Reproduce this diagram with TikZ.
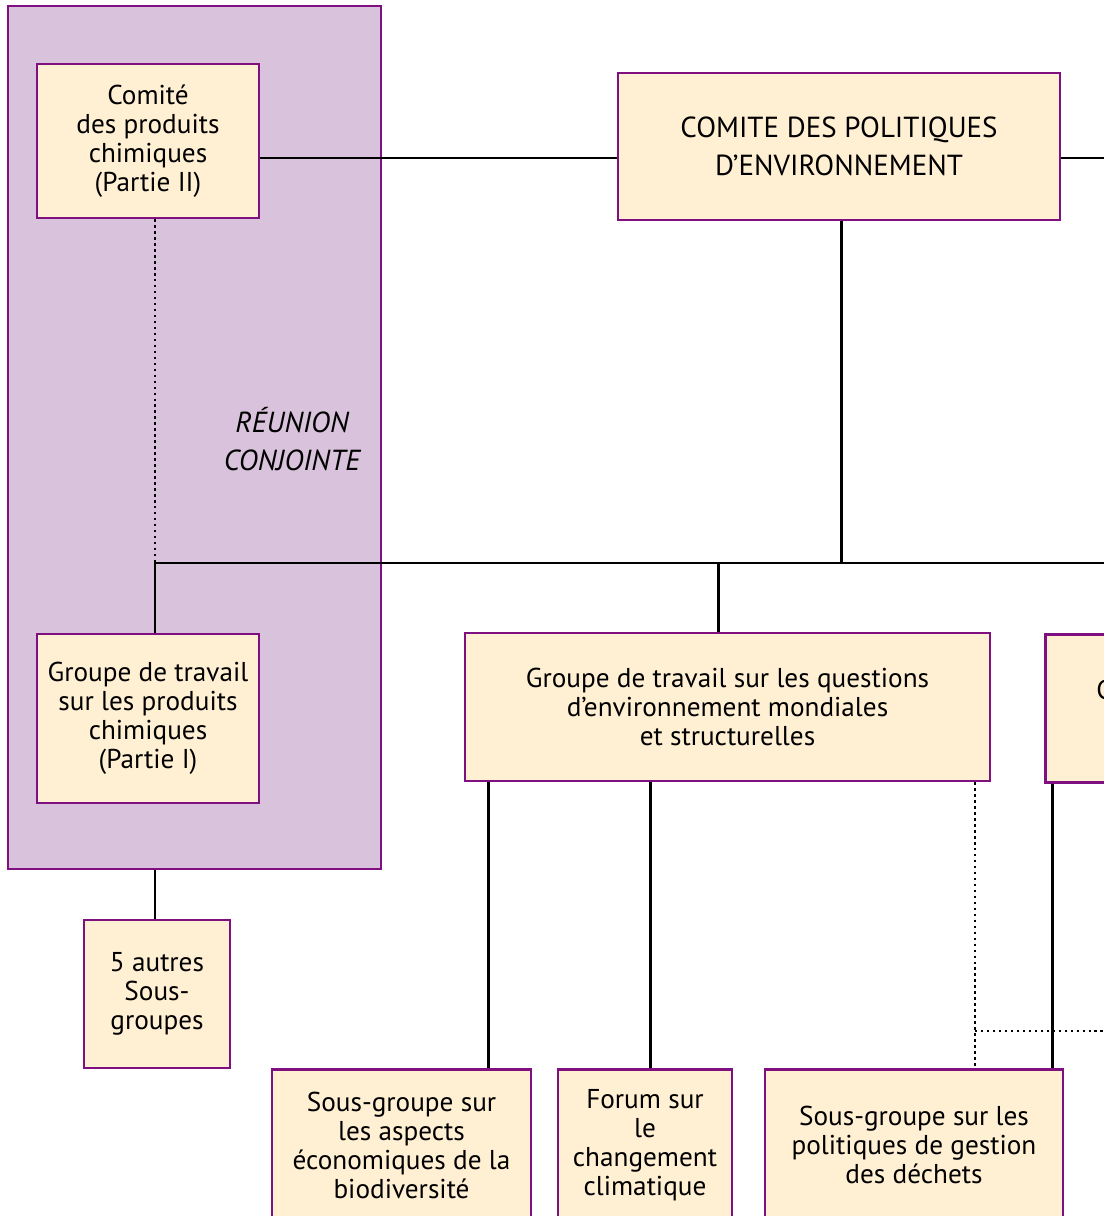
\documentclass[tikz,border=0pt]{standalone}
\usepackage{fontspec}
\setmainfont{PT Sans}
\definecolor{orgpurple}{HTML}{80107F}
\definecolor{jointfill}{HTML}{D9C2DB}
\definecolor{boxfill}{HTML}{FFEFD3}
\tikzset{
  orgbox/.style={draw=orgpurple, fill=boxfill, line width=1.5pt, align=center, inner sep=0pt, font=\fontsize{15.5}{16.5}\selectfont},
  link/.style={line width=1.7pt},
  dottedlink/.style={line width=1.4pt, dotted}
}
\begin{document}
\begin{tikzpicture}[x=0.02cm, y=-0.02cm]
    \useasboundingbox (0,0) rectangle (1103,1216);
    % joint meeting panel
    \node[orgbox, fill=jointfill, minimum width=7.46cm, minimum height=17.26cm] (joint) at (194.5,437.5) {};
    \node[font=\fontsize{16.5}{21.5}\selectfont\itshape, align=center] (jointlabel) at (292,439) {RÉUNION\\CONJOINTE};
    \node[orgbox, minimum width=4.44cm, minimum height=3.08cm] (chemtwo) at (148,141) {Comité\\des produits\\chimiques\\(Partie II)};
    \node[orgbox, minimum width=4.44cm, minimum height=3.38cm] (chemone) at (148,718.5) {Groupe de travail\\sur les produits\\chimiques\\(Partie I)};
    \node[orgbox, minimum width=2.92cm, minimum height=2.96cm] (others) at (157,994) {5 autres\\Sous-\\groupes};
    % committee and working parties
    \node[orgbox, minimum width=8.84cm, minimum height=2.94cm, font=\fontsize{16.5}{21.5}\selectfont] (epoc) at (839,146.5) {COMITE DES POLITIQUES\\D’ENVIRONNEMENT};
    \node[orgbox, minimum width=10.5cm, minimum height=2.96cm] (global) at (727.5,707) {Groupe de travail sur les questions\\d’environnement mondiales\\et structurelles};
    \node[orgbox, anchor=north west, minimum width=6cm, minimum height=2.96cm] (nextwp) at (1044,633) {};
    \node[anchor=west, inner sep=0pt, font=\fontsize{15.5}{16.5}\selectfont] (nextlabel) at (1096,690) {C};
    % subgroups
    \node[orgbox, anchor=north, minimum width=5.18cm, minimum height=3.04cm] (biodiv) at (401.5,1068) {Sous-groupe sur\\les aspects\\économiques de la\\biodiversité};
    \node[orgbox, anchor=north, minimum width=3.48cm, minimum height=3.04cm] (climate) at (645,1068) {Forum sur\\le\\changement\\climatique};
    \node[orgbox, anchor=north, minimum width=5.96cm, minimum height=3.04cm] (waste) at (914,1068) {Sous-groupe sur les\\politiques de gestion\\des déchets};
    % connectors
    \coordinate (toprow) at (0,158);
    \coordinate (bus) at (0,563);
    \coordinate (dotrow) at (0,1031);
    \coordinate (rightedge) at (1115,0);
    \coordinate (chemx) at (155,0);
    \coordinate (globalx) at (718,0);
    \coordinate (biodivx) at (488,0);
    \coordinate (climatex) at (650,0);
    \coordinate (dotx) at (975,0);
    \coordinate (nextx) at (1052,0);
    \draw[link] (chemtwo.east |- toprow) -- (epoc.west |- toprow);
    \draw[link] (epoc.east |- toprow) -- (rightedge |- toprow);
    \draw[link] (epoc.south -| 841,0) -- (bus -| 841,0);
    \draw[dottedlink] (chemtwo.south -| chemx) -- (bus -| chemx);
    \draw[link] (chemone.north -| chemx) -- (bus -| chemx) -- (bus -| rightedge);
    \draw[link] (bus -| globalx) -- (global.north -| globalx);
    \draw[link] (joint.south -| chemx) -- (others.north -| chemx);
    \draw[link] (global.south -| biodivx) -- (biodiv.north -| biodivx);
    \draw[link] (global.south -| climatex) -- (climate.north -| climatex);
    \draw[dottedlink] (global.south -| dotx) -- (waste.north -| dotx);
    \draw[dottedlink] (dotrow -| dotx) -- (dotrow -| rightedge);
    \draw[link] (nextwp.south -| nextx) -- (waste.north -| nextx);
\end{tikzpicture}
\end{document}
